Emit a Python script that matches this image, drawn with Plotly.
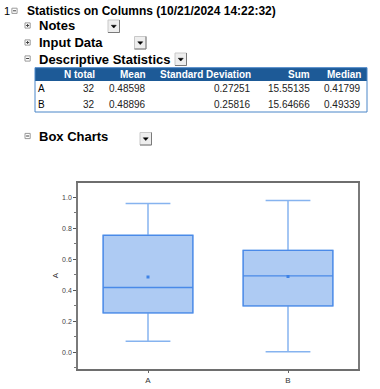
import plotly.graph_objects as go

W, H = 380, 389

# ---------------- data ----------------
report_index = "1"
report_title = "Statistics on Columns (10/21/2024 14:22:32)"
sections = ["Notes", "Input Data", "Descriptive Statistics", "Box Charts"]
section_open = [False, False, True, True]

table_headers = ["N total", "Mean", "Standard Deviation", "Sum", "Median"]
row_labels = ["A", "B"]
n_total = [32, 32]
means = [0.48598, 0.48896]
std_devs = [0.27251, 0.25816]
sums = [15.55135, 15.64666]
medians = [0.41799, 0.49339]

box_categories = ["A", "B"]
q1 = [0.255, 0.300]
q3 = [0.755, 0.657]
lower_whisker = [0.071, 0.004]
upper_whisker = [0.960, 0.980]
y_ticks = [0.0, 0.2, 0.4, 0.6, 0.8, 1.0]
y_title = "A"

# ---------------- helpers (layout positions in pixels) ----------------
def X(px):
    return px / W

def Y(py):
    return 1 - py / H

FONT = "Liberation Sans, Arial, sans-serif"
shapes = []
annotations = []

def text(t, px, py, size, anchor="left", color="black", bold=False):
    annotations.append(dict(text=f"<b>{t}</b>" if bold else t, x=X(px), y=Y(py),
                            xref="paper", yref="paper", xanchor=anchor, yanchor="middle",
                            showarrow=False, font=dict(family=FONT, size=size, color=color)))

def toggle_icon(cx, cy, is_open):
    s = 2.6
    shapes.append(dict(type="rect", xref="paper", yref="paper",
                       x0=X(cx - s), x1=X(cx + s), y0=Y(cy + s), y1=Y(cy - s),
                       line=dict(color="#9a9a9a", width=1), fillcolor="white", layer="above"))
    shapes.append(dict(type="line", xref="paper", yref="paper",
                       x0=X(cx - 1.5), x1=X(cx + 1.5), y0=Y(cy), y1=Y(cy),
                       line=dict(color="#444", width=1), layer="above"))
    if not is_open:
        shapes.append(dict(type="line", xref="paper", yref="paper",
                           x0=X(cx), x1=X(cx), y0=Y(cy - 1.5), y1=Y(cy + 1.5),
                           line=dict(color="#444", width=1), layer="above"))

def dropdown(x0, y0):
    w, h = 11.5, 12.5
    shapes.append(dict(type="rect", xref="paper", yref="paper",
                       x0=X(x0), x1=X(x0 + w), y0=Y(y0 + h), y1=Y(y0),
                       line=dict(color="#c8c8c8", width=1), fillcolor="#eeeeee", layer="above"))
    shapes.append(dict(type="path", xref="paper", yref="paper",
                       path=f"M {X(x0 + w)} {Y(y0)} L {X(x0 + w)} {Y(y0 + h)} L {X(x0)} {Y(y0 + h)}",
                       line=dict(color="#7a7a7a", width=1), layer="above"))
    cx, cy = x0 + w / 2, y0 + h / 2
    shapes.append(dict(type="path", xref="paper", yref="paper",
                       path=f"M {X(cx - 2.5)} {Y(cy - 1)} L {X(cx + 2.5)} {Y(cy - 1)} L {X(cx)} {Y(cy + 1.8)} Z",
                       line=dict(color="black", width=0.5), fillcolor="black", layer="above"))

# top line
text(report_index, 2, 11, 11)
toggle_icon(14.5, 10.8, True)
text(report_title, 25, 11, 12, bold=True)

sec_y = [26, 43, 59, 136.5]
btn_pos = [(108, 20), (134.5, 36.5), (175, 53), (140, 132.5)]
for name, op, yy, (bx, by) in zip(sections, section_open, sec_y, btn_pos):
    toggle_icon(27.6, yy - 0.5, op)
    text(name, 37, yy, 13, bold=True)
    dropdown(bx, by)

# ---------------- table (header band, frame, text) ----------------
tab_l, tab_r, tab_t, head_b, tab_b = 35, 367, 67.7, 81, 112
shapes.append(dict(type="rect", xref="paper", yref="paper", x0=X(tab_l), x1=X(tab_r),
                   y0=Y(head_b), y1=Y(tab_t), line=dict(width=0), fillcolor="#1d5a97", layer="above"))
shapes.append(dict(type="rect", xref="paper", yref="paper", x0=X(tab_l), x1=X(tab_r),
                   y0=Y(tab_b), y1=Y(tab_t), line=dict(color="#4a86c8", width=1), layer="above"))

col_right = [97, 148, 253, 312, 363]
header_y = 74.5
row_y = [88.3, 104.3]
for h, xr in zip(table_headers, col_right):
    text(h, xr, header_y, 10, anchor="right", color="white", bold=True)
columns = [[str(v) for v in n_total],
           [f"{v:.5f}" for v in means],
           [f"{v:.5f}" for v in std_devs],
           [f"{v:.5f}" for v in sums],
           [f"{v:.5f}" for v in medians]]
for i, (lab, yy) in enumerate(zip(row_labels, row_y)):
    text(lab, 36, yy, 10)
    for col, xr in zip(columns, col_right):
        text(col[i], xr, yy, 10, anchor="right", color="#222")

# ---------------- box chart ----------------
# whiskers (lighter blue)
box_whisk = go.Box(
    x=box_categories, q1=q1, median=medians, q3=q3,
    lowerfence=lower_whisker, upperfence=upper_whisker,
    width=0.64, whiskerwidth=0.5,
    fillcolor="#aecbf3", line=dict(color="#86b3ef", width=1.5),
    boxpoints=False, hoverinfo="skip", showlegend=False,
)
# box outline and median (darker blue), drawn over the whisker trace
box_body = go.Box(
    x=box_categories, q1=q1, median=medians, q3=q3,
    lowerfence=q1, upperfence=q3,
    width=0.64, whiskerwidth=0,
    fillcolor="#aecbf3", line=dict(color="#4a8ae8", width=1.3),
    boxpoints=False, hoverinfo="skip", showlegend=False,
)
mean_pts = go.Scatter(x=box_categories, y=means, mode="markers",
                      marker=dict(color="#3f83e6", size=3, symbol="square"),
                      showlegend=False, hoverinfo="skip")

fig = go.Figure([box_whisk, box_body, mean_pts])
fig.update_layout(
    width=W, height=H, autosize=False,
    margin=dict(l=0, r=0, t=0, b=0),
    paper_bgcolor="white", plot_bgcolor="white",
    boxmode="overlay",
    shapes=shapes, annotations=annotations,
    font=dict(family=FONT),
    xaxis=dict(domain=[X(78), X(358)], range=[-0.5, 1.5], type="category",
               showline=True, linecolor="#6e6e6e", linewidth=1.5, mirror=True,
               ticks="outside", ticklen=3, tickcolor="#666", tickwidth=1,
               showgrid=False, zeroline=False,
               tickfont=dict(family=FONT, size=8, color="#333")),
    yaxis=dict(domain=[Y(368.5), Y(182.5)], range=[-0.1045, 1.0955],
               tickvals=y_ticks, ticktext=[f"{v:.1f}" for v in y_ticks],
               showline=True, linecolor="#7a7a7a", linewidth=1.5, mirror=True,
               ticks="outside", ticklen=3, tickcolor="#555", tickwidth=1,
               minor=dict(ticks="outside", ticklen=2, dtick=0.1, tick0=0, tickcolor="#777"),
               showgrid=False, zeroline=False,
               tickfont=dict(family=FONT, size=7, color="#444"),
               title=dict(text=y_title, font=dict(family=FONT, size=8, color="#333"), standoff=2)),
)

fig.write_html("out.html", config={"displayModeBar": False},
               post_script="document.body.style.margin='0';document.body.style.padding='0';")
